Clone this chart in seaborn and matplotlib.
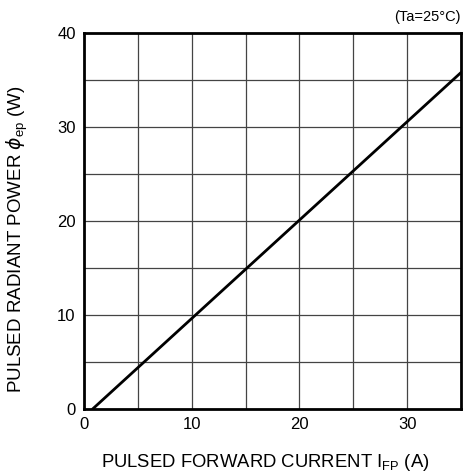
import numpy as np
import pandas as pd
import matplotlib
matplotlib.use("Agg")
import matplotlib.pyplot as plt
import seaborn as sns

# data
forward_current = [0.8, 35.0]   # IFP (A)
radiant_power = [0.0, 35.8]     # phi_ep (W)

x_ticks = [0, 10, 20, 30]
y_ticks = [0, 10, 20, 30, 40]
x_grid = [5, 10, 15, 20, 25, 30]
y_grid = [5, 10, 15, 20, 25, 30, 35]

sns.set_style("white")
plt.rcParams['font.family'] = ['Liberation Sans', 'DejaVu Sans']
plt.rcParams['mathtext.fontset'] = 'custom'
plt.rcParams['mathtext.rm'] = 'Liberation Sans'
plt.rcParams['mathtext.it'] = 'DejaVu Sans:italic'
plt.rcParams['text.color'] = 'black'
plt.rcParams['axes.labelcolor'] = 'black'

fig = plt.figure(figsize=(4.63, 4.74), dpi=100)
ax = fig.add_axes([0.1814, 0.1371, 0.8143, 0.7932])

for gx in x_grid:
    ax.axvline(gx, color='#444444', lw=0.9, zorder=1)
for gy in y_grid:
    ax.axhline(gy, color='#444444', lw=0.9, zorder=1)

df = pd.DataFrame({'current': forward_current, 'power': radiant_power})
sns.lineplot(data=df, x='current', y='power', ax=ax, color='black', lw=2.0, zorder=3)

ax.set_xlim(0, 35)
ax.set_ylim(0, 40)
ax.set_xticks(x_ticks)
ax.set_yticks(y_ticks)
ax.tick_params(axis='both', length=0, labelsize=12, colors='black', pad=6)
for s in ax.spines.values():
    s.set_color('black')
    s.set_linewidth(2.0)

ax.set_xlabel(r'PULSED FORWARD CURRENT I$_{\mathregular{FP}}$ (A)', fontsize=13.3, va='center')
ax.set_ylabel(r'PULSED RADIANT POWER $\phi_{\mathregular{ep}}$ (W)', fontsize=13.5, va='center')
ax.xaxis.set_label_coords(0.481, -0.141)
ax.yaxis.set_label_coords(-0.178, 0.452)
ax.text(1.0, 1.025, '(Ta=25°C)', transform=ax.transAxes, ha='right', va='bottom', fontsize=10.5)

fig.savefig('out.png', dpi=100)
